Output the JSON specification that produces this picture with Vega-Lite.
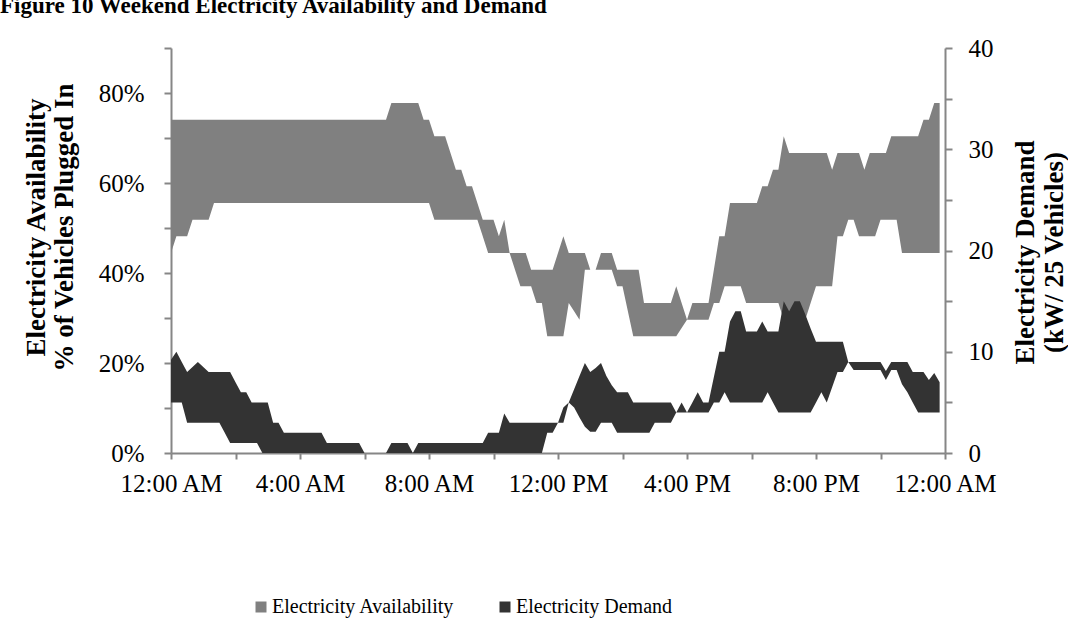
{
"$schema": "https://vega.github.io/schema/vega-lite/v6.json",
"width": 774,
"height": 405,
"autosize": {"type": "none"},
"padding": {"left": 171, "top": 48, "right": 123, "bottom": 169},
"background": "white",
"title": {"text": "Figure 10 Weekend Electricity Availability and Demand", "anchor": "start", "frame": "group", "font": "Liberation Serif", "fontSize": 23, "fontWeight": "bold", "color": "black", "offset": 0, "dx": -171, "dy": 0, "baseline": "alphabetic"},
"data": {"values": [
{"m":0,"alo":0.4444,"ahi":0.7407,"dlo":5,"dhi":9.2},
{"m":10,"alo":0.4815,"ahi":0.7407,"dlo":5,"dhi":10},
{"m":20,"alo":0.4815,"ahi":0.7407,"dlo":5,"dhi":9},
{"m":30,"alo":0.4815,"ahi":0.7407,"dlo":3,"dhi":8},
{"m":40,"alo":0.5185,"ahi":0.7407,"dlo":3,"dhi":8.5},
{"m":50,"alo":0.5185,"ahi":0.7407,"dlo":3,"dhi":9},
{"m":60,"alo":0.5185,"ahi":0.7407,"dlo":3,"dhi":8.5},
{"m":70,"alo":0.5185,"ahi":0.7407,"dlo":3,"dhi":8},
{"m":80,"alo":0.5556,"ahi":0.7407,"dlo":3,"dhi":8},
{"m":90,"alo":0.5556,"ahi":0.7407,"dlo":3,"dhi":8},
{"m":100,"alo":0.5556,"ahi":0.7407,"dlo":2,"dhi":8},
{"m":110,"alo":0.5556,"ahi":0.7407,"dlo":1,"dhi":8},
{"m":120,"alo":0.5556,"ahi":0.7407,"dlo":1,"dhi":7},
{"m":130,"alo":0.5556,"ahi":0.7407,"dlo":1,"dhi":6},
{"m":140,"alo":0.5556,"ahi":0.7407,"dlo":1,"dhi":6},
{"m":150,"alo":0.5556,"ahi":0.7407,"dlo":1,"dhi":5},
{"m":160,"alo":0.5556,"ahi":0.7407,"dlo":1,"dhi":5},
{"m":170,"alo":0.5556,"ahi":0.7407,"dlo":0,"dhi":5},
{"m":180,"alo":0.5556,"ahi":0.7407,"dlo":0,"dhi":5},
{"m":190,"alo":0.5556,"ahi":0.7407,"dlo":0,"dhi":3},
{"m":200,"alo":0.5556,"ahi":0.7407,"dlo":0,"dhi":3},
{"m":210,"alo":0.5556,"ahi":0.7407,"dlo":0,"dhi":2},
{"m":220,"alo":0.5556,"ahi":0.7407,"dlo":0,"dhi":2},
{"m":230,"alo":0.5556,"ahi":0.7407,"dlo":0,"dhi":2},
{"m":240,"alo":0.5556,"ahi":0.7407,"dlo":0,"dhi":2},
{"m":250,"alo":0.5556,"ahi":0.7407,"dlo":0,"dhi":2},
{"m":260,"alo":0.5556,"ahi":0.7407,"dlo":0,"dhi":2},
{"m":270,"alo":0.5556,"ahi":0.7407,"dlo":0,"dhi":2},
{"m":280,"alo":0.5556,"ahi":0.7407,"dlo":0,"dhi":2},
{"m":290,"alo":0.5556,"ahi":0.7407,"dlo":0,"dhi":1},
{"m":300,"alo":0.5556,"ahi":0.7407,"dlo":0,"dhi":1},
{"m":310,"alo":0.5556,"ahi":0.7407,"dlo":0,"dhi":1},
{"m":320,"alo":0.5556,"ahi":0.7407,"dlo":0,"dhi":1},
{"m":330,"alo":0.5556,"ahi":0.7407,"dlo":0,"dhi":1},
{"m":340,"alo":0.5556,"ahi":0.7407,"dlo":0,"dhi":1},
{"m":350,"alo":0.5556,"ahi":0.7407,"dlo":0,"dhi":1},
{"m":360,"alo":0.5556,"ahi":0.7407,"dlo":0,"dhi":0},
{"m":370,"alo":0.5556,"ahi":0.7407,"dlo":0,"dhi":0},
{"m":380,"alo":0.5556,"ahi":0.7407,"dlo":0,"dhi":0},
{"m":390,"alo":0.5556,"ahi":0.7407,"dlo":0,"dhi":0},
{"m":400,"alo":0.5556,"ahi":0.7407,"dlo":0,"dhi":0},
{"m":410,"alo":0.5556,"ahi":0.7778,"dlo":0,"dhi":1},
{"m":420,"alo":0.5556,"ahi":0.7778,"dlo":0,"dhi":1},
{"m":430,"alo":0.5556,"ahi":0.7778,"dlo":0,"dhi":1},
{"m":440,"alo":0.5556,"ahi":0.7778,"dlo":0,"dhi":1},
{"m":450,"alo":0.5556,"ahi":0.7778,"dlo":0,"dhi":0},
{"m":460,"alo":0.5556,"ahi":0.7778,"dlo":0,"dhi":1},
{"m":470,"alo":0.5556,"ahi":0.7407,"dlo":0,"dhi":1},
{"m":480,"alo":0.5556,"ahi":0.7407,"dlo":0,"dhi":1},
{"m":490,"alo":0.5185,"ahi":0.7037,"dlo":0,"dhi":1},
{"m":500,"alo":0.5185,"ahi":0.7037,"dlo":0,"dhi":1},
{"m":510,"alo":0.5185,"ahi":0.7037,"dlo":0,"dhi":1},
{"m":520,"alo":0.5185,"ahi":0.6667,"dlo":0,"dhi":1},
{"m":530,"alo":0.5185,"ahi":0.6296,"dlo":0,"dhi":1},
{"m":540,"alo":0.5185,"ahi":0.6296,"dlo":0,"dhi":1},
{"m":550,"alo":0.5185,"ahi":0.5926,"dlo":0,"dhi":1},
{"m":560,"alo":0.5185,"ahi":0.5926,"dlo":0,"dhi":1},
{"m":570,"alo":0.5185,"ahi":0.5556,"dlo":0,"dhi":1},
{"m":580,"alo":0.4815,"ahi":0.5185,"dlo":0,"dhi":1},
{"m":590,"alo":0.4444,"ahi":0.5185,"dlo":0,"dhi":2},
{"m":600,"alo":0.4444,"ahi":0.5185,"dlo":0,"dhi":2},
{"m":610,"alo":0.4444,"ahi":0.4815,"dlo":0,"dhi":2},
{"m":620,"alo":0.4444,"ahi":0.5185,"dlo":0,"dhi":3.9},
{"m":630,"alo":0.4444,"ahi":0.4444,"dlo":0,"dhi":3},
{"m":640,"alo":0.4074,"ahi":0.4444,"dlo":0,"dhi":3},
{"m":650,"alo":0.3704,"ahi":0.4444,"dlo":0,"dhi":3},
{"m":660,"alo":0.3704,"ahi":0.4444,"dlo":0,"dhi":3},
{"m":670,"alo":0.3704,"ahi":0.4074,"dlo":0,"dhi":3},
{"m":680,"alo":0.3333,"ahi":0.4074,"dlo":0,"dhi":3},
{"m":690,"alo":0.3333,"ahi":0.4074,"dlo":0,"dhi":3},
{"m":700,"alo":0.2593,"ahi":0.4074,"dlo":2,"dhi":3},
{"m":710,"alo":0.2593,"ahi":0.4074,"dlo":2,"dhi":3},
{"m":720,"alo":0.2593,"ahi":0.4444,"dlo":3,"dhi":3},
{"m":730,"alo":0.2593,"ahi":0.4815,"dlo":3,"dhi":4.5},
{"m":740,"alo":0.3333,"ahi":0.4444,"dlo":5,"dhi":5},
{"m":750,"alo":0.3148,"ahi":0.4444,"dlo":4.5,"dhi":6.3},
{"m":760,"alo":0.2963,"ahi":0.4444,"dlo":3.5,"dhi":7.6},
{"m":770,"alo":0.4074,"ahi":0.4444,"dlo":2.6,"dhi":8.9},
{"m":780,"alo":0.4074,"ahi":0.4074,"dlo":2.1,"dhi":8},
{"m":790,"alo":0.4074,"ahi":0.4074,"dlo":2.1,"dhi":8.4},
{"m":800,"alo":0.4074,"ahi":0.4444,"dlo":3,"dhi":8.9},
{"m":810,"alo":0.4074,"ahi":0.4444,"dlo":3,"dhi":7.6},
{"m":820,"alo":0.4074,"ahi":0.4444,"dlo":3,"dhi":6.7},
{"m":830,"alo":0.3704,"ahi":0.4074,"dlo":2,"dhi":6},
{"m":840,"alo":0.3704,"ahi":0.4074,"dlo":2,"dhi":6},
{"m":850,"alo":0.3148,"ahi":0.4074,"dlo":2,"dhi":6},
{"m":860,"alo":0.2593,"ahi":0.4074,"dlo":2,"dhi":5},
{"m":870,"alo":0.2593,"ahi":0.4074,"dlo":2,"dhi":5},
{"m":880,"alo":0.2593,"ahi":0.3333,"dlo":2,"dhi":5},
{"m":890,"alo":0.2593,"ahi":0.3333,"dlo":2,"dhi":5},
{"m":900,"alo":0.2593,"ahi":0.3333,"dlo":3,"dhi":5},
{"m":910,"alo":0.2593,"ahi":0.3333,"dlo":3,"dhi":5},
{"m":920,"alo":0.2593,"ahi":0.3333,"dlo":3,"dhi":5},
{"m":930,"alo":0.2593,"ahi":0.3333,"dlo":3,"dhi":5},
{"m":940,"alo":0.2593,"ahi":0.3704,"dlo":4,"dhi":4},
{"m":950,"alo":0.2778,"ahi":0.3333,"dlo":4,"dhi":5},
{"m":960,"alo":0.2963,"ahi":0.2963,"dlo":4,"dhi":4},
{"m":970,"alo":0.2963,"ahi":0.3333,"dlo":4,"dhi":5},
{"m":980,"alo":0.2963,"ahi":0.3333,"dlo":4,"dhi":6},
{"m":990,"alo":0.2963,"ahi":0.3333,"dlo":4,"dhi":5},
{"m":1000,"alo":0.2963,"ahi":0.3333,"dlo":4,"dhi":5},
{"m":1010,"alo":0.3333,"ahi":0.4074,"dlo":5,"dhi":7.5},
{"m":1020,"alo":0.3333,"ahi":0.4815,"dlo":5,"dhi":10},
{"m":1030,"alo":0.3704,"ahi":0.4815,"dlo":6,"dhi":10},
{"m":1040,"alo":0.3704,"ahi":0.5556,"dlo":5,"dhi":13},
{"m":1050,"alo":0.3704,"ahi":0.5556,"dlo":5,"dhi":14},
{"m":1060,"alo":0.3704,"ahi":0.5556,"dlo":5,"dhi":14},
{"m":1070,"alo":0.3333,"ahi":0.5556,"dlo":5,"dhi":12},
{"m":1080,"alo":0.3333,"ahi":0.5556,"dlo":5,"dhi":12},
{"m":1090,"alo":0.3333,"ahi":0.5556,"dlo":5,"dhi":12},
{"m":1100,"alo":0.3333,"ahi":0.5926,"dlo":5,"dhi":13},
{"m":1110,"alo":0.3333,"ahi":0.5926,"dlo":6,"dhi":12},
{"m":1120,"alo":0.3333,"ahi":0.6296,"dlo":5,"dhi":12},
{"m":1130,"alo":0.3333,"ahi":0.6296,"dlo":4,"dhi":12},
{"m":1140,"alo":0.2963,"ahi":0.7037,"dlo":4,"dhi":15},
{"m":1150,"alo":0.2963,"ahi":0.6667,"dlo":4,"dhi":14},
{"m":1160,"alo":0.2963,"ahi":0.6667,"dlo":4,"dhi":15},
{"m":1170,"alo":0.2963,"ahi":0.6667,"dlo":4,"dhi":15},
{"m":1180,"alo":0.2963,"ahi":0.6667,"dlo":4,"dhi":13.7},
{"m":1190,"alo":0.3333,"ahi":0.6667,"dlo":4,"dhi":12.3},
{"m":1200,"alo":0.3704,"ahi":0.6667,"dlo":5,"dhi":11},
{"m":1210,"alo":0.3704,"ahi":0.6667,"dlo":6,"dhi":11},
{"m":1220,"alo":0.3704,"ahi":0.6667,"dlo":5,"dhi":11},
{"m":1230,"alo":0.3704,"ahi":0.6296,"dlo":6.5,"dhi":11},
{"m":1240,"alo":0.4815,"ahi":0.6667,"dlo":8,"dhi":11},
{"m":1250,"alo":0.4815,"ahi":0.6667,"dlo":8,"dhi":11},
{"m":1260,"alo":0.5185,"ahi":0.6667,"dlo":9,"dhi":9},
{"m":1270,"alo":0.5185,"ahi":0.6667,"dlo":8.2,"dhi":9},
{"m":1280,"alo":0.4815,"ahi":0.6667,"dlo":8.2,"dhi":9},
{"m":1290,"alo":0.4815,"ahi":0.6296,"dlo":8.2,"dhi":9},
{"m":1300,"alo":0.4815,"ahi":0.6667,"dlo":8.2,"dhi":9},
{"m":1310,"alo":0.4815,"ahi":0.6667,"dlo":8.2,"dhi":9},
{"m":1320,"alo":0.5185,"ahi":0.6667,"dlo":8.2,"dhi":9},
{"m":1330,"alo":0.5185,"ahi":0.6667,"dlo":7.2,"dhi":8.1},
{"m":1340,"alo":0.5185,"ahi":0.7037,"dlo":8.2,"dhi":9},
{"m":1350,"alo":0.5185,"ahi":0.7037,"dlo":8.2,"dhi":9},
{"m":1360,"alo":0.4444,"ahi":0.7037,"dlo":6.8,"dhi":9},
{"m":1370,"alo":0.4444,"ahi":0.7037,"dlo":6,"dhi":9},
{"m":1380,"alo":0.4444,"ahi":0.7037,"dlo":5,"dhi":8},
{"m":1390,"alo":0.4444,"ahi":0.7037,"dlo":4,"dhi":8},
{"m":1400,"alo":0.4444,"ahi":0.7407,"dlo":4,"dhi":8},
{"m":1410,"alo":0.4444,"ahi":0.7407,"dlo":4,"dhi":7.2},
{"m":1420,"alo":0.4444,"ahi":0.7778,"dlo":4,"dhi":7.9},
{"m":1430,"alo":0.4444,"ahi":0.7778,"dlo":4,"dhi":7}
]},
"encoding": {
  "x": {"field": "m", "type": "quantitative",
    "scale": {"domain": [0, 1440], "nice": false, "zero": false},
    "axis": {"title": null, "values": [0,120,240,360,480,600,720,840,960,1080,1200,1320,1440],
      "labelExpr": "datum.value % 240 != 0 ? '' : (((datum.value/60) % 12 == 0) ? 12 : ((datum.value/60) % 12)) + ':00 ' + (((datum.value/60) % 24) < 12 ? 'AM' : 'PM')",
      "grid": false, "tickSize": 6, "tickColor": "#868686", "domainColor": "#868686", "domainWidth": 2, "tickWidth": 2,
      "labelFont": "Liberation Serif", "labelFontSize": 25, "labelColor": "black", "labelPadding": 12, "labelFlush": false, "labelOverlap": false}}
},
"layer": [
  {"mark": {"type": "area", "interpolate": "linear", "opacity": 1},
   "encoding": {
     "y": {"field": "ahi", "type": "quantitative",
       "scale": {"domain": [0, 0.9], "nice": false, "zero": false},
       "axis": {"orient": "left", "values": [0,0.1,0.2,0.3,0.4,0.5,0.6,0.7,0.8,0.9],
         "labelExpr": "round(datum.value*10) % 2 == 0 ? format(datum.value, '.0%') : ''",
         "grid": false, "tickSize": 7, "tickColor": "#868686", "domainColor": "#868686", "domainWidth": 2, "tickWidth": 2,
         "labelFont": "Liberation Serif", "labelFontSize": 25, "labelColor": "black", "labelPadding": 20, "labelFlush": false, "labelOverlap": false,
         "title": ["Electricity Availability", "% of Vehicles Plugged In"],
         "titleFont": "Liberation Serif", "titleFontSize": 27, "titleFontWeight": "bold", "titleColor": "black",
         "titleAngle": 270, "titleAlign": "center", "titleBaseline": "middle", "titleLineHeight": 28,
         "titleX": -135, "titleY": 179}},
     "y2": {"field": "alo"},
     "color": {"datum": "Electricity Availability", "type": "nominal",
       "scale": {"domain": ["Electricity Availability", "Electricity Demand"], "range": ["#808080", "#333333"]},
       "legend": {"orient": "none", "legendX": 80, "legendY": 549, "direction": "horizontal", "title": null,
         "symbolType": "square", "symbolSize": 121, "symbolStrokeWidth": 0, "symbolOpacity": 1,
         "labelFont": "Liberation Serif", "labelFontSize": 20, "labelColor": "black", "labelOffset": 1, "labelLimit": 400,
         "columnPadding": 40, "padding": 0}}
   }},
  {"mark": {"type": "area", "interpolate": "linear", "opacity": 1},
   "encoding": {
     "y": {"field": "dhi", "type": "quantitative",
       "scale": {"domain": [0, 40], "nice": false, "zero": false},
       "axis": {"orient": "right", "values": [0,5,10,15,20,25,30,35,40],
         "labelExpr": "datum.value % 10 == 0 ? datum.value : ''",
         "grid": false, "tickSize": 7, "tickColor": "#868686", "domainColor": "#868686", "domainWidth": 2, "tickWidth": 2,
         "labelFont": "Liberation Serif", "labelFontSize": 25, "labelColor": "black", "labelPadding": 16, "labelFlush": false, "labelOverlap": false,
         "title": ["Electricity Demand", "(kW/ 25 Vehicles)"],
         "titleFont": "Liberation Serif", "titleFontSize": 27, "titleFontWeight": "bold", "titleColor": "black",
         "titleAngle": 270, "titleAlign": "center", "titleBaseline": "middle", "titleLineHeight": 29,
         "titleX": 80, "titleY": 204}},
     "y2": {"field": "dlo"},
     "color": {"datum": "Electricity Demand", "type": "nominal"}
   }}
],
"resolve": {"scale": {"y": "independent"}},
"config": {"view": {"stroke": null}, "font": "Liberation Serif"}
}
